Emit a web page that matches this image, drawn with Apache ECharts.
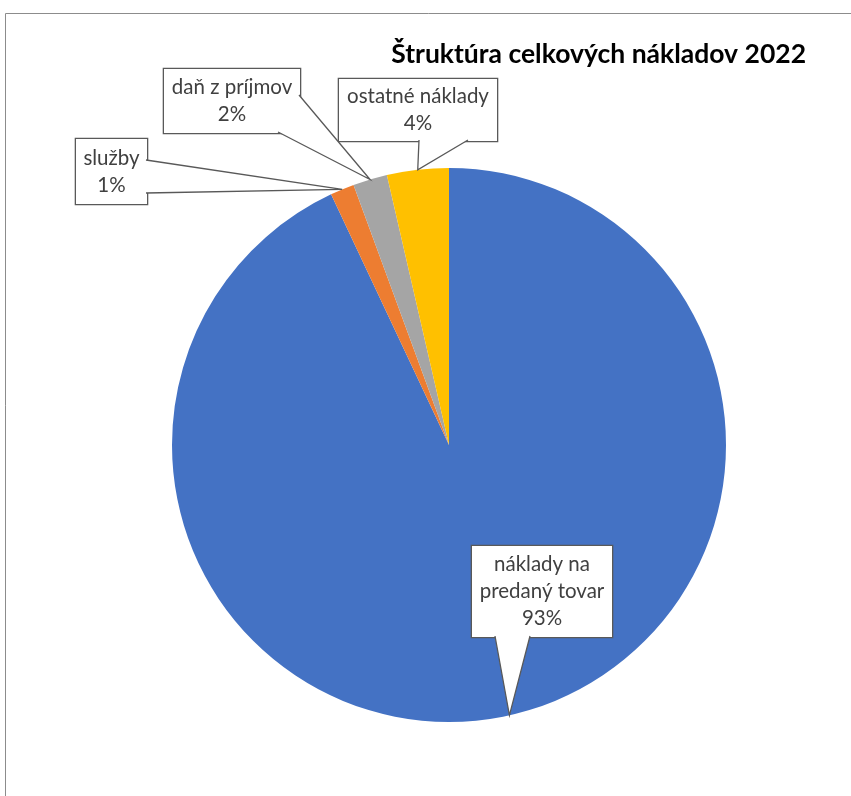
<!DOCTYPE html>
<html><head><meta charset="utf-8">
<script src="https://cdn.jsdelivr.net/npm/echarts@6/dist/echarts.min.js"></script>
<style>html,body{margin:0;padding:0;background:#fff}#c{width:851px;height:796px}</style>
</head><body><div id="c"></div>
<script>
const chartTitle = 'Štruktúra celkových nákladov 2022';
const categories = ['náklady na predaný tovar', 'služby', 'daň z príjmov', 'ostatné náklady'];
const labelNames = ['náklady na\npredaný tovar', 'služby', 'daň z príjmov', 'ostatné náklady'];
const values = [93.0, 1.4, 2.0, 3.6];
const colors = ['#4472C4', '#ED7D31', '#A5A5A5', '#FFC000'];

// callout layout: box [left, top, width, height], wedge anchors on the box
const boxes = [[472, 546, 140, 91], [76, 139, 71, 65], [164, 69, 136, 64], [339, 79, 158, 62]];
const anchors = [[[495, 636], [530, 636]], [[146, 160], [146, 193]], [[278, 132], [299, 95]], [[419, 140], [468, 140]]];
const LH = 27;

const total = values.reduce((a, b) => a + b, 0);
const chart = echarts.init(document.getElementById('c'));

function sliceEdgePoint(i) {
  const lay = chart.getModel().getSeriesByIndex(0).getData().getItemLayout(i);
  const mid = (lay.startAngle + lay.endAngle) / 2;
  return [lay.cx + lay.r * Math.cos(mid), lay.cy + lay.r * Math.sin(mid)];
}

const data = categories.map((c, i) => {
  const lines = labelNames[i].split('\n').length + 1;
  const b = boxes[i];
  const pv = (b[3] - lines * LH) / 2;
  return {
    name: c, value: values[i], itemStyle: { color: colors[i] },
    label: { width: b[2], padding: [pv, 0, pv, 0] }
  };
});

const option = {
  animation: false,
  backgroundColor: '#fff',
  title: {
    text: chartTitle, right: 40, top: 36,
    textStyle: { fontFamily: 'Lato', fontWeight: 'bold', fontSize: 26.5, color: '#000' }
  },
  series: [{
    type: 'pie',
    center: [449, 445],
    radius: 277,
    startAngle: 90,
    clockwise: true,
    avoidLabelOverlap: false,
    itemStyle: { borderWidth: 0 },
    label: {
      show: true,
      position: 'outside',
      formatter: p => labelNames[p.dataIndex] + '\n' + Math.round(p.value / total * 100) + '%',
      fontFamily: 'Lato', fontSize: 20.5, color: '#404040', lineHeight: LH,
      align: 'center',
      backgroundColor: '#fff', borderColor: '#595959', borderWidth: 1.3
    },
    labelLine: { show: false },
    labelLayout: p => {
      const b = boxes[p.dataIndex];
      return { x: b[0] + b[2] / 2, y: b[1] + b[3] / 2, align: 'center', verticalAlign: 'middle' };
    },
    data: data
  }]
};
chart.setOption(option);

const graphics = [{
  type: 'rect', z: 0, silent: true,
  shape: { x: 5.5, y: 13.5, width: 2000, height: 2000 },
  style: { fill: null, stroke: '#8c8c8c', lineWidth: 1 }
}];
boxes.forEach((b, i) => {
  const T = sliceEdgePoint(i);
  const [A, B] = anchors[i];
  graphics.push({ type: 'polygon', z: 5, silent: true, shape: { points: [A, T, B] }, style: { fill: '#fff', stroke: null } });
  graphics.push({ type: 'polyline', z: 5, silent: true, shape: { points: [A, T, B] }, style: { fill: null, stroke: '#595959', lineWidth: 1.3 } });
});
chart.setOption({ graphic: graphics });
</script></body></html>
